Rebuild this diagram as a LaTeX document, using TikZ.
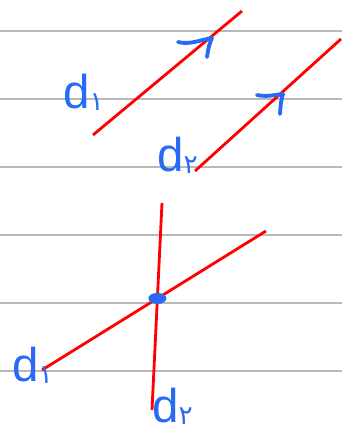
\documentclass[tikz,border=0pt]{standalone}
\usepackage{fontspec}
\setmainfont{Liberation Sans}
\newfontfamily\fadig{DejaVu Sans}
\usetikzlibrary{calc}
\definecolor{ink}{RGB}{40,105,245}
\definecolor{rulegray}{RGB}{185,185,185}
\tikzset{
  ruling/.style={rulegray, line width=0.6pt},
  redline/.style={red, line width=1.6pt},
  tick/.style={ink, line width=2.2pt, line cap=round, line join=round},
  lbl/.style={ink, anchor=base west, inner sep=0pt, font=\fontsize{27}{27}\selectfont},
}
\newcommand{\dlab}[1]{d\raisebox{-0.06em}{\fadig\fontsize{15}{15}\selectfont #1}}

\begin{document}
\begin{tikzpicture}[x=0.02cm, y=-0.02cm]
    \useasboundingbox (0,0) rectangle (342,434);
    \foreach \y in {31,99,167,235,303,371}
        \draw[ruling] (0,\y) -- (342,\y);

    \coordinate (a1) at (93,135);
    \coordinate (b1) at (242,11);
    \coordinate (a2) at (195,171);
    \coordinate (b2) at (341,39);
    \coordinate (a3) at (42,370);
    \coordinate (b3) at (266,231);
    \coordinate (a4) at (152,410);
    \coordinate (b4) at (162,203);

    \draw[redline] (a1) -- (b1);
    \draw[redline] (a2) -- (b2);
    \draw[redline] (a3) -- (b3);
    \draw[redline] (a4) -- (b4);

    \draw[tick] (178,42) .. controls (190,45) and (200,40) .. (212,38) .. controls (209,45) .. (207,57);
    \draw[tick] (257,95) .. controls (266,97) and (275,95) .. (283,94) .. controls (281,101) .. (280,114);

    \coordinate (x) at (intersection of a3--b3 and a4--b4);
    \fill[ink] (x) ellipse (9 and 5.5);

    \node[lbl] (d1top) at (63,108) {\dlab{۱}};
    \node[lbl] (d2top) at (157,171) {\dlab{۲}};
    \node[lbl] (d1bot) at (12,381) {\dlab{۱}};
    \node[lbl] (d2bot) at (152,422) {\dlab{۲}};
\end{tikzpicture}
\end{document}
